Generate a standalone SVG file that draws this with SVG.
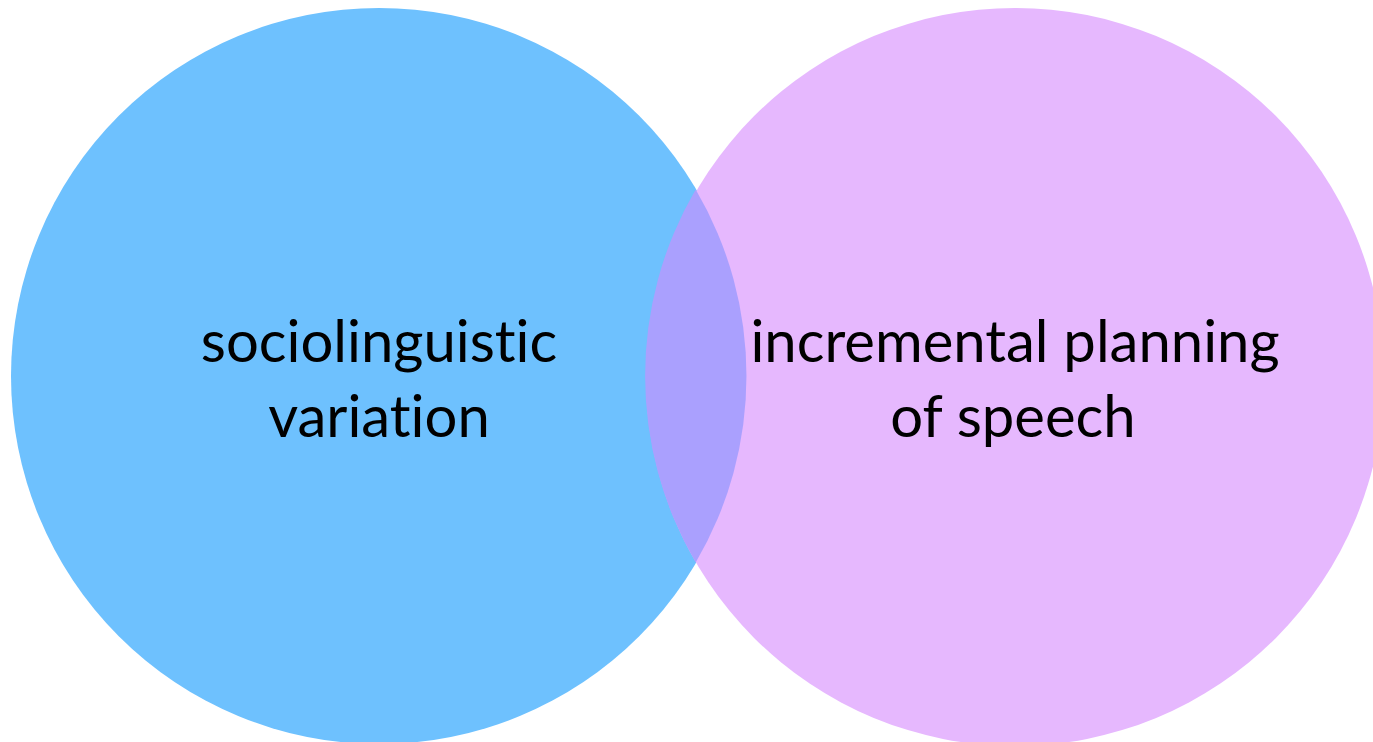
<svg xmlns="http://www.w3.org/2000/svg" width="1373" height="742" viewBox="0 0 1373 742">
<style>
.lbl{font-family:Lato,"Open Sans","Liberation Sans",sans-serif;font-size:58px;fill:#000;text-anchor:middle;font-variant-ligatures:none;font-feature-settings:"liga" 0}
</style>
<rect width="1373" height="742" fill="#ffffff"/>
<g id="node-socio">
<circle cx="379" cy="376" r="368" fill="#6ec1fe"/>
</g>
<g id="node-incremental">
<circle cx="1015" cy="377" r="369" fill="#e6b8fe"/>
</g>
<g id="overlap">
<path d="M695.7 189.5 A368 368 0 0 1 695.7 562.5 A369 369 0 0 1 695.7 189.5 Z" fill="#aaa0fe"/>
</g>
<g id="labels">
<text class="lbl" x="379" y="362">sociolinguistic</text>
<text class="lbl" x="379" y="437">variation</text>
<text class="lbl" x="1015" y="362">incremental planning</text>
<text class="lbl" x="1013" y="437">of speech</text>
</g>
<g id="connectors"></g>
</svg>
